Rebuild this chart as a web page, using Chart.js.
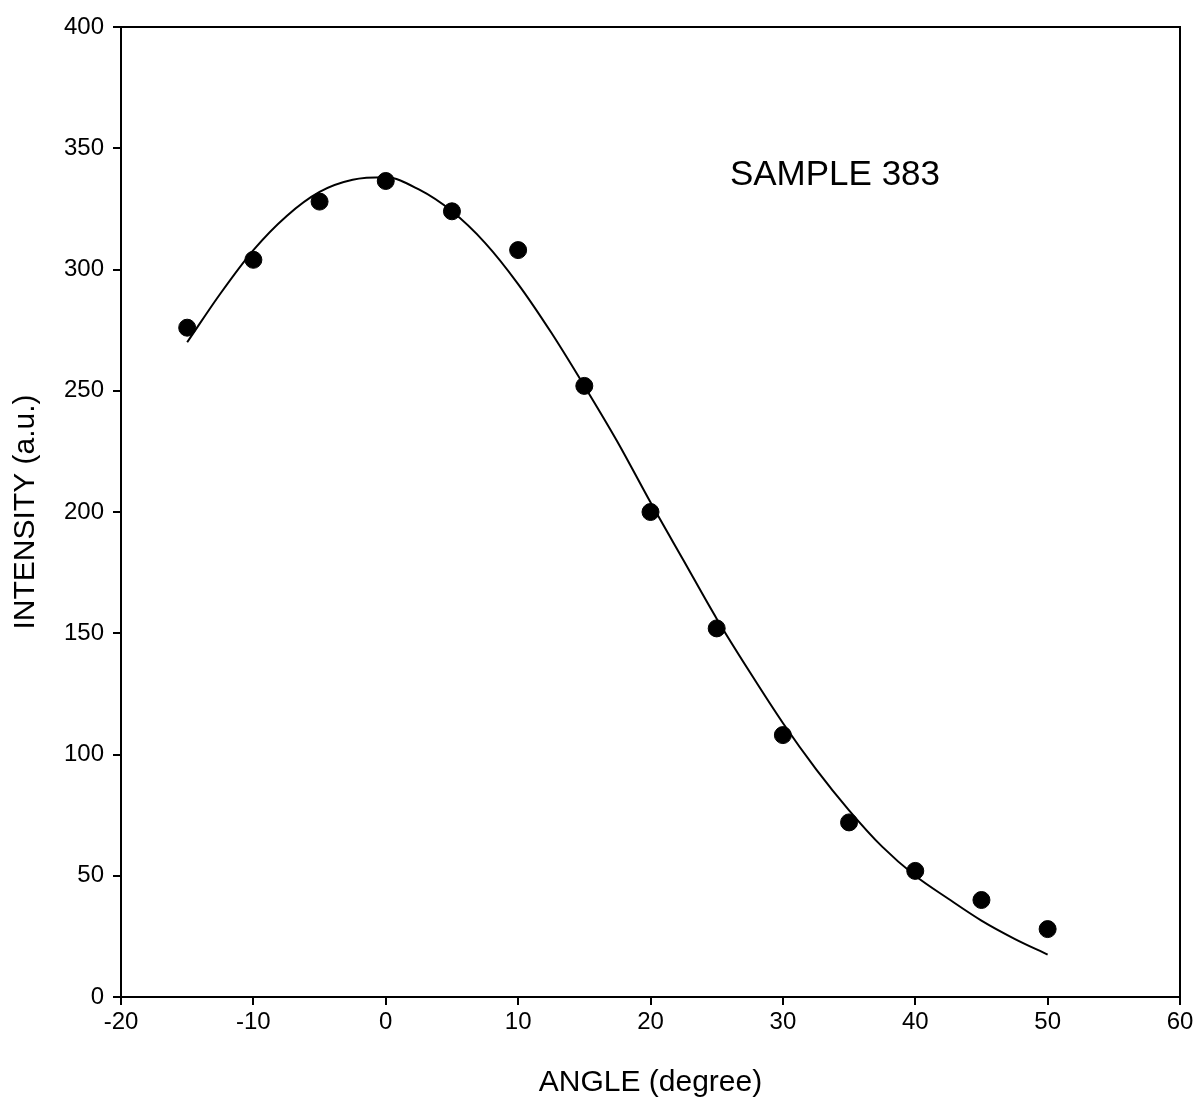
<!DOCTYPE html>
<html>
<head>
<meta charset="utf-8">
<script src="https://cdn.jsdelivr.net/npm/chart.js@4"></script>
<style>
  html, body { margin: 0; padding: 0; background: #fff; }
  #wrap { width: 1199px; height: 1103px; position: relative; }
</style>
</head>
<body>
<div id="wrap"><canvas id="c" width="1199" height="1103"></canvas></div>
<script>
// Measured points
const angles = [-15, -10, -5, 0, 5, 10, 15, 20, 25, 30, 35, 40, 45, 50];
const intensity = [276, 304, 328, 336.5, 324, 308, 252, 200, 152, 108, 72, 52, 40, 28];

// Fitted curve
const fitAngles = [-15, -12.5, -10, -7.5, -5, -2.5, 0, 2.5, 5, 7.5, 10, 12.5, 15, 17.5, 20, 22.5, 25, 27.5, 30, 32.5, 35, 37.5, 40, 42.5, 45, 47.5, 50];
const fitIntensity = [270, 290, 308, 322, 332, 337, 338, 333, 324, 311, 294, 274, 252, 229, 204, 180, 156, 134, 113, 94, 77, 62, 50, 40.5, 31.5, 24, 17.5];

// Axis settings
const xTicks = [-20, -10, 0, 10, 20, 30, 40, 50, 60];
const yTicks = [0, 50, 100, 150, 200, 250, 300, 350, 400];
const xTitle = 'ANGLE (degree)';
const yTitle = 'INTENSITY (a.u.)';
const sampleLabel = 'SAMPLE 383';
const sampleLabelPos = [26, 335];

const FONT = "'Liberation Sans', Arial, Helvetica, sans-serif";

const framePlugin = {
  id: 'frame',
  afterDraw(chart) {
    const {ctx, chartArea: a, scales} = chart;
    ctx.save();
    ctx.strokeStyle = '#000';
    ctx.lineWidth = 2;
    ctx.beginPath();
    ctx.moveTo(a.left, a.top);
    ctx.lineTo(a.right, a.top);
    ctx.lineTo(a.right, a.bottom);
    ctx.stroke();
    ctx.fillStyle = '#000';
    ctx.font = '35px ' + FONT;
    ctx.textBaseline = 'alphabetic';
    ctx.textAlign = 'left';
    ctx.fillText(sampleLabel, scales.x.getPixelForValue(sampleLabelPos[0]), scales.y.getPixelForValue(sampleLabelPos[1]));
    ctx.restore();
  }
};

new Chart(document.getElementById('c'), {
  type: 'scatter',
  data: {
    datasets: [
      {
        type: 'line',
        data: fitAngles.map((x, i) => ({x, y: fitIntensity[i]})),
        borderColor: '#000',
        borderWidth: 2,
        pointRadius: 0,
        cubicInterpolationMode: 'monotone',
        fill: false
      },
      {
        data: angles.map((x, i) => ({x, y: intensity[i]})),
        backgroundColor: '#000',
        borderColor: '#000',
        pointRadius: 8.5,
        pointHoverRadius: 8.5
      }
    ]
  },
  options: {
    responsive: false,
    animation: false,
    devicePixelRatio: 1,
    layout: { padding: { left: 0, top: 27, right: 19, bottom: 0 } },
    plugins: { legend: { display: false }, tooltip: { enabled: false } },
    scales: {
      x: {
        type: 'linear',
        min: -20, max: 60,
        afterFit(s) { s.height = 106; },
        afterBuildTicks(s) { s.ticks = xTicks.map(v => ({value: v})); },
        border: { display: true, color: '#000', width: 2 },
        grid: { drawOnChartArea: false, drawTicks: true, tickLength: 8, color: '#000', lineWidth: 2 },
        ticks: { color: '#000', font: { family: FONT, size: 24 }, padding: 3, maxRotation: 0 },
        title: { display: true, text: xTitle, color: '#000', font: { family: FONT, size: 30 }, padding: { top: 0, bottom: 2 } }
      },
      y: {
        type: 'linear',
        min: 0, max: 400,
        afterFit(s) { s.width = 121; },
        afterBuildTicks(s) { s.ticks = yTicks.map(v => ({value: v})); },
        border: { display: true, color: '#000', width: 2 },
        grid: { drawOnChartArea: false, drawTicks: true, tickLength: 8, color: '#000', lineWidth: 2 },
        ticks: { color: '#000', font: { family: FONT, size: 24 }, padding: 9 },
        title: { display: true, text: yTitle, color: '#000', font: { family: FONT, size: 30 }, padding: { top: 8, bottom: 0 } }
      }
    }
  },
  plugins: [framePlugin]
});
</script>
</body>
</html>
